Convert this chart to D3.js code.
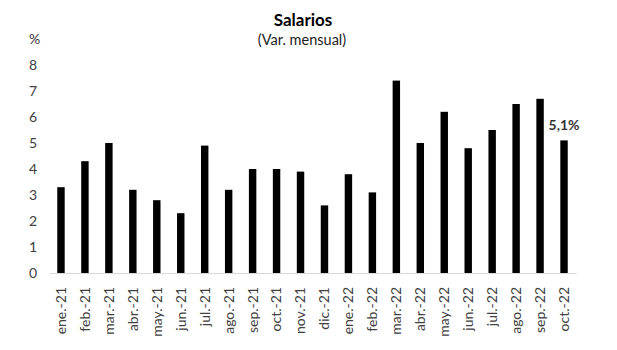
<!DOCTYPE html>
<html>
<head>
<meta charset="utf-8">
<script src="https://cdn.jsdelivr.net/npm/d3@7"></script>
<style>
  body { margin: 0; background: #fff; }
  svg { display: block; }
</style>
</head>
<body>
<svg id="chart"></svg>
<script>
// monthly wage change, %
const months = ['ene.-21', 'feb.-21', 'mar.-21', 'abr.-21', 'may.-21', 'jun.-21', 'jul.-21',
  'ago.-21', 'sep.-21', 'oct.-21', 'nov.-21', 'dic.-21', 'ene.-22', 'feb.-22', 'mar.-22',
  'abr.-22', 'may.-22', 'jun.-22', 'jul.-22', 'ago.-22', 'sep.-22', 'oct.-22'];
const values = [3.3, 4.3, 5.0, 3.2, 2.8, 2.3, 4.9, 3.2, 4.0, 4.0, 3.9, 2.6, 3.8, 3.1, 7.4,
  5.0, 6.2, 4.8, 5.5, 6.5, 6.7, 5.1];
const yTicks = [0, 1, 2, 3, 4, 5, 6, 7, 8];
const lastLabel = '5,1%';

const width = 617;
const height = 350;
const margin = { top: 65, right: 41, bottom: 77, left: 49 };

const svg = d3.select('#chart')
  .attr('width', width)
  .attr('height', height)
  .attr('font-family', 'Lato, "Open Sans", sans-serif');

const x = d3.scaleBand()
  .domain(months)
  .range([margin.left, width - margin.right])
  .paddingInner(0.69)
  .paddingOuter(0.345);

const y = d3.scaleLinear()
  .domain([0, 8])
  .range([height - margin.bottom, margin.top]);

// title
svg.append('text')
  .attr('x', 303)
  .attr('y', 26)
  .attr('text-anchor', 'middle')
  .attr('font-size', 17)
  .attr('font-weight', 700)
  .attr('fill', '#000')
  .text('Salarios');

svg.append('text')
  .attr('x', 302)
  .attr('y', 45)
  .attr('text-anchor', 'middle')
  .attr('font-size', 14.5)
  .attr('fill', '#222')
  .text('(Var. mensual)');

svg.append('text')
  .attr('x', 29)
  .attr('y', 44)
  .attr('font-size', 14)
  .attr('fill', '#333')
  .text('%');

// y axis: labels only
const yAxis = svg.append('g')
  .attr('transform', `translate(${margin.left},0)`)
  .call(d3.axisLeft(y).tickValues(yTicks).tickSize(0).tickPadding(12));
yAxis.select('.domain').remove();
yAxis.selectAll('text')
  .attr('font-size', 14)
  .attr('font-family', 'Lato, "Open Sans", sans-serif')
  .attr('fill', '#404040');

// bars
svg.append('g')
  .selectAll('rect')
  .data(values)
  .join('rect')
  .attr('x', (d, i) => x(months[i]))
  .attr('y', (d) => y(d))
  .attr('width', x.bandwidth())
  .attr('height', (d) => y(0) - y(d))
  .attr('fill', '#000');

// x axis
const xAxis = svg.append('g')
  .attr('transform', `translate(0,${y(0)})`)
  .call(d3.axisBottom(x).tickSize(0).tickSizeOuter(0).tickPadding(0));
xAxis.select('.domain')
  .attr('stroke', '#d9d9d9')
  .attr('stroke-width', 1);
xAxis.selectAll('text')
  .attr('font-size', 14)
  .attr('font-family', 'Lato, "Open Sans", sans-serif')
  .attr('fill', '#404040')
  .attr('text-anchor', 'end')
  .attr('transform', 'rotate(-90)')
  .attr('x', -14)
  .attr('y', 0)
  .attr('dy', '0.35em');

// label on last bar
const last = values.length - 1;
svg.append('text')
  .attr('x', x(months[last]) + x.bandwidth() / 2)
  .attr('y', y(values[last]) - 10)
  .attr('text-anchor', 'middle')
  .attr('font-size', 14)
  .attr('font-weight', 700)
  .attr('fill', '#333')
  .text(lastLabel);
</script>
</body>
</html>
